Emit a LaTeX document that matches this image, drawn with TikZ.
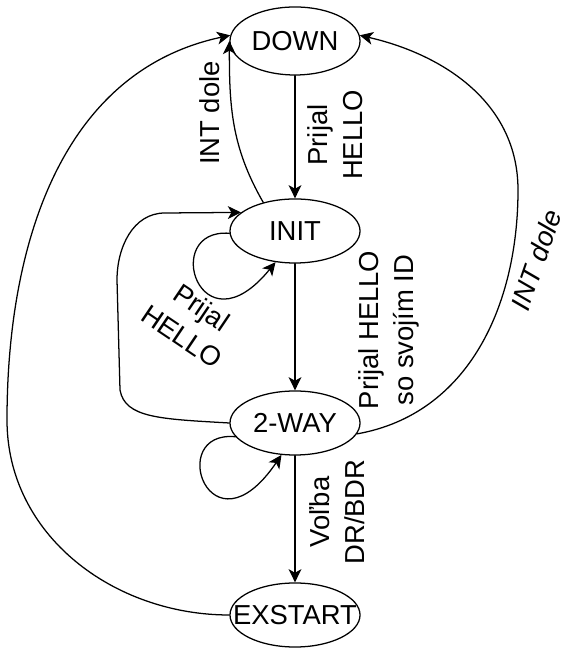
\documentclass[tikz,border=0pt]{standalone}
\usepackage{fontspec}
\setmainfont{Liberation Sans}
\usetikzlibrary{arrows.meta,shapes.geometric}

\newcommand{\statename}[1]{\makebox[0pt]{#1}}
\newcommand{\lblfont}{\fontsize{19.5}{25}\selectfont}

\begin{document}
\begin{tikzpicture}[line cap=round,line join=round,>={Stealth[length=3.3mm,width=3.2mm,inset=0.9mm]},x=0.025cm,y=0.025cm,
		state/.style={ellipse,draw,line width=0.9pt,minimum width=3.25cm,minimum height=1.6cm,inner sep=0pt,font=\lblfont},
		lbl/.style={align=center,inner sep=0pt,font=\lblfont},
		edge/.style={->,line width=0.9pt}]
		\useasboundingbox (0,0) rectangle (560,648);
		\node[state,minimum height=1.7cm] (down) at (295,607) {\statename{DOWN}};
		\node[state] (init) at (295,417) {\statename{INIT}};
		\node[state] (twoway) at (295,225) {\statename{2-WAY}};
		\node[state] (exstart) at (295,33) {\statename{EXSTART}};
		\draw[edge] (down) -- (init);
		\draw[edge] (init) -- (twoway);
		\draw[edge] (twoway) -- (exstart);
		\draw[edge] (init.138) to[out=120,in=-90] (down.west);
		\draw[edge] (exstart.west) to[out=180,in=-90] (7,228) to[out=90,in=192] (down.175);
		\draw[edge] (twoway.-10) to[out=10,in=-90] (518,458) to[out=90,in=-13] (down.5);
		\draw[edge] (twoway.west) .. controls (160,229) and (125,230) .. (120,258) -- (117,368) to[out=90,in=180] (165,435) -- (init.161);
		\draw[edge] (init.182) .. controls (160,420) and (200,293) .. (init.238);
		\draw[edge] (twoway.193) .. controls (165,218) and (210,88) .. (twoway.247);
		\node[lbl,rotate=90] (hellodown) at (335,513) {Prijal\\HELLO};
		\node[lbl,rotate=90] (helloid) at (389,318) {Prijal HELLO\\so svojím ID};
		\node[lbl,rotate=90] (volba) at (337,136) {Voľba\\DR/BDR};
		\node[lbl,rotate=90] (intinit) at (210,535) {INT dole};
		\node[lbl,rotate=-34] (helloloop) at (192,326) {Prijal\\HELLO};
		\node[lbl,rotate=71,font=\lblfont\itshape] (inttwoway) at (536,388) {INT dole};
\end{tikzpicture}
\end{document}
